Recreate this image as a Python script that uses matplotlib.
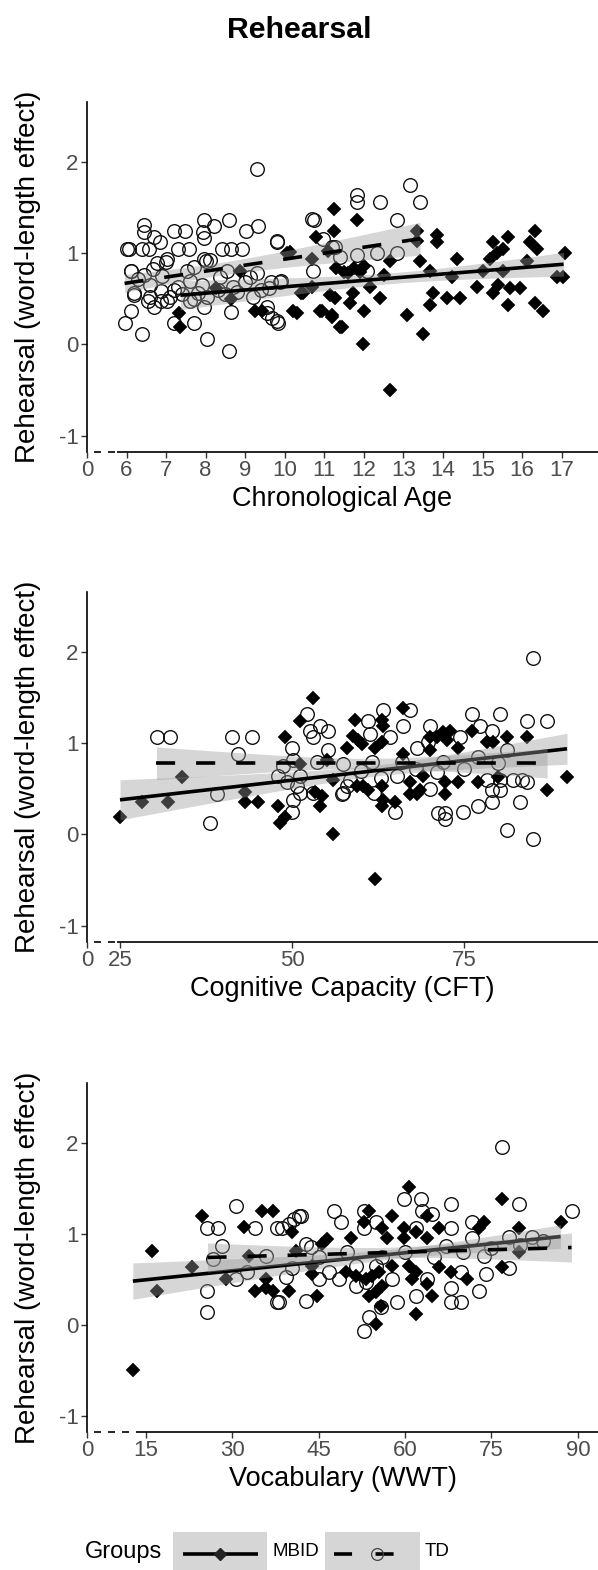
import numpy as np
import matplotlib
matplotlib.use('Agg')
import matplotlib.pyplot as plt
from matplotlib.patches import Rectangle

plt.rcParams['font.family'] = ['Liberation Sans', 'DejaVu Sans']

# ---------------- data ----------------
title = "Rehearsal"
ylabel = "Rehearsal (word-length effect)"
xlabels = ["Chronological Age", "Cognitive Capacity (CFT)", "Vocabulary (WWT)"]
yticks = [-1, 0, 1, 2]

# Panel 1: chronological age
p1_td = [(9.31,1.92),(6.45,1.31),(6.45,1.23),(7.97,1.37),(8.58,1.37),(8.2,1.30),(9.33,1.30),(7.19,1.24),
         (7.94,1.23),(9.03,1.24),(7.47,1.24),(6.7,1.18),(6.85,1.12),(6.0,1.05),(6.05,1.05),(6.4,1.05),
         (6.56,1.05),(7.29,1.05),(7.57,1.05),(7.95,1.17),(8.42,1.05),(8.63,1.05),(8.93,1.05),(9.81,1.12),
         (7.03,0.94),(7.95,0.94),(8.1,0.93),(6.12,0.81),(6.78,0.89),(5.95,0.24),(6.1,0.37),(6.4,0.12),
         (8.04,0.06),(8.58,-0.07),(7.7,0.24),(7.2,0.24),(8.65,0.36),(9.55,0.35),(9.68,0.29),(9.84,0.24),
         (6.18,0.54),(6.53,0.48),(6.86,0.48),(7.03,0.48),(6.7,0.41),
         (6.1,0.81),(6.43,0.76),(6.68,0.83),(7.0,0.90),(6.86,0.59),(6.18,0.56),(7.29,0.63),(7.6,0.70),
         (7.7,0.85),(8.0,0.92),(7.8,0.56),(8.04,0.52),(8.37,0.74),(8.55,0.81),(8.7,0.63),(9.13,0.74),
         (9.31,0.78),(9.64,0.68),(9.89,0.68),(9.81,1.14),(10.7,1.38),(10.72,0.81),(7.54,0.81),(7.11,0.52),
         (7.6,0.48),(7.95,0.41),(6.6,0.52),(9.56,0.41),(9.8,0.26),
         (6.3,0.72),(6.6,0.65),(7.2,0.60),(7.4,0.55),(7.9,0.65),(8.3,0.60),(8.8,0.58),(9.0,0.68),
         (9.4,0.60),(9.6,0.62),(6.9,0.75),(7.7,0.50),(8.5,0.55),(9.2,0.52),
         (13.17,1.75),(11.83,1.64),(11.83,1.56),(12.41,1.56),(13.42,1.56),(12.84,1.37),(11.28,1.07),
         (11.83,0.98),(12.34,1.00),(12.84,1.00),(12.08,0.81),(10.73,1.37),(10.97,1.16),(11.2,1.07),
         (9.9,0.70),(11.4,0.96)]
p1_mb = [(7.36,0.19),(7.32,0.35),(9.26,0.37),(9.43,0.37),(10.2,0.37),(10.06,1.0),(8.25,0.62),(8.63,0.5),
         (8.88,0.81),(11.25,1.49),(11.25,1.25),(10.8,1.18),(10.14,1.01),(10.7,0.94),(11.1,1.03),(11.3,0.84),
         (10.3,0.34),(10.95,0.37),(11.2,0.32),(11.4,0.19),(10.45,0.56),(10.7,0.63),(11.15,0.54),(11.83,1.36),
         (13.85,1.2),(13.85,1.12),(13.35,1.25),(13.35,1.14),(13.42,0.92),(12.67,0.92),(14.36,0.94),(13.68,0.81),
         (15.27,1.12),(15.65,1.18),(15.52,1.05),(15.2,0.94),(15.37,1.0),(16.33,1.25),(16.2,1.12),(16.38,1.05),
         (17.08,1.0),(16.88,0.74),(17.04,0.74),(16.13,0.92),(15.52,0.81),(15.0,0.81),(14.24,0.74),(14.86,0.63),
         (15.4,0.65),(15.27,0.56),(15.7,0.62),(15.95,0.62),(15.65,0.43),(16.33,0.45),(16.53,0.37),(14.43,0.51),
         (14.1,0.51),(13.75,0.56),(13.68,0.43),(13.1,0.32),(13.5,0.12),(11.98,0.01),(12.67,-0.5),(11.45,0.19),
         (12.0,0.37),(12.42,0.51),(11.73,0.56),(11.66,0.45),(11.28,0.51),(12.16,0.63),(11.5,0.80),(11.6,0.78),
         (11.75,0.84),(11.9,0.80),(12.0,0.86),(12.5,0.76),(10.4,0.56),(10.9,0.37),(11.2,0.30)]
p1_mb_fit = dict(x=[7.36, 17.05], y=[0.54, 0.88], hx=[7.36, 12.5, 17.05], hw=[0.16, 0.06, 0.13])
p1_td_fit = dict(x=[5.95, 13.42], y=[0.67, 1.16], hx=[5.95, 8.2, 13.42], hw=[0.10, 0.07, 0.18])

# Panel 2: cognitive capacity
p2_td = [(30.4,1.07),(32.3,1.07),(41.3,1.07),(44.2,1.07),(42.2,0.88),(39.1,0.44),(38.1,0.13),(52.2,1.32),
         (52.6,1.13),(54.1,1.19),(55.2,1.13),(53.1,1.07),(50.0,0.95),(55.2,0.93),(50.1,0.82),(48.7,0.75),
         (48.0,0.64),(49.3,0.57),(51.2,0.64),(50.7,0.53),(51.2,0.46),(50.1,0.38),(50.0,0.25),(53.0,0.46),
         (57.4,0.77),(57.3,0.44),(53.6,0.79),
         (85.0,1.94),(63.2,1.37),(67.2,1.37),(76.2,1.32),(80.2,1.32),(84.2,1.24),(87.1,1.24),(61.1,1.24),
         (66.1,1.19),(70.1,1.19),(77.3,1.19),(79.1,1.13),(64.2,1.07),(74.4,1.07),(68.2,0.95),(81.2,0.93),
         (65.3,0.64),(71.1,0.68),(78.4,0.60),(80.2,0.60),(82.1,0.60),(83.4,0.60),(84.2,0.57),(79.1,0.49),
         (80.2,0.49),(71.2,0.24),(72.2,0.24),(72.2,0.17),(74.9,0.25),(77.0,0.31),(79.1,0.36),(83.1,0.36),
         (65.0,0.25),(81.2,0.05),(85.0,-0.05),(57.4,0.46),(58.0,0.53),(58.4,0.60),(61.6,0.80),(61.3,1.10),
         (69.8,1.01),(60.0,0.70),(63.0,0.62),(66.0,0.80),(68.0,0.72),(72.0,0.80),(75.0,0.72),(77.0,0.85),
         (80.0,0.78),(70.0,0.50),(62.0,0.45)]
p2_mb = [(53.0,1.50),(51.2,1.24),(49.0,1.07),(34.0,0.63),(28.2,0.36),(32.0,0.36),(25.0,0.19),(43.2,0.47),
         (43.2,0.36),(45.1,0.36),(48.0,0.31),(48.3,0.13),(49.0,0.19),(56.0,0.0),(51.2,0.77),(55.1,0.82),
         (53.3,0.47),(54.4,0.42),(54.1,0.31),(58.0,0.95),(56.0,0.60),
         (66.1,1.39),(59.2,1.26),(63.1,1.26),(63.2,1.19),(58.9,1.08),(59.6,1.04),(60.2,0.99),(62.1,0.95),
         (63.1,1.01),(66.1,0.88),(70.1,1.07),(71.1,1.07),(72.0,1.12),(73.0,1.13),(72.5,1.04),(70.1,0.93),
         (74.1,0.95),(76.2,1.13),(78.3,1.01),(79.2,1.01),(81.2,1.07),(84.2,1.07),(90.0,0.63),(87.1,0.49),
         (79.9,0.63),(77.0,0.57),(74.1,0.57),(72.2,0.57),(72.2,0.44),(69.0,0.64),(68.6,0.49),(67.2,0.57),
         (67.2,0.44),(68.2,0.44),(65.0,0.36),(63.2,0.38),(63.1,0.31),(59.4,0.53),(61.0,0.49),(60.3,0.53),
         (63.1,0.53),(62.1,-0.49)]
p2_mb_fit = dict(x=[25.0, 90.0], y=[0.38, 0.94], hx=[25.0, 62.0, 90.0], hw=[0.22, 0.06, 0.17])
p2_td_fit = dict(x=[30.3, 87.1], y=[0.78, 0.78], hx=[30.3, 65.0, 87.1], hw=[0.18, 0.06, 0.16])

# Panel 3: vocabulary
p3_td = [(30.7,1.31),(25.7,1.07),(27.5,1.07),(33.9,1.07),(37.7,1.07),(38.7,1.07),(39.9,1.11),(40.8,1.16),
         (25.7,0.37),(25.7,0.14),(28.3,0.87),(30.7,0.50),(32.6,0.58),(35.9,0.76),(37.8,0.25),(39.4,0.53),
         (26.6,0.72),(42.0,1.2),(42.8,0.26),(42.8,0.89),(43.7,0.86),(45.1,0.5),(46.8,0.58),(48.6,0.5),
         (47.7,1.25),(48.9,1.13),(40.4,0.62),
         (76.8,1.96),(59.8,1.38),(62.7,1.38),(67.9,1.33),(79.7,1.33),(88.9,1.25),(52.9,1.25),(52.9,1.07),
         (55.0,1.13),(62.9,1.25),(64.7,1.22),(67.9,1.07),(71.6,1.13),(78.0,0.97),(82.0,0.97),(67.1,0.87),
         (71.6,0.95),(61.9,1.07),(73.7,0.76),(74.0,0.56),(72.8,0.37),(78.0,0.62),(67.9,0.40),(67.9,0.25),
         (69.8,0.25),(61.9,0.32),(63.8,0.5),(58.6,0.25),(57.7,0.5),(53.8,0.09),(52.9,-0.07),(55.8,0.2),
         (51.5,0.43),(53.2,0.47),(38.2,0.25),(69.8,0.58),(51.5,0.65),(41.6,1.2),
         (45.0,0.75),(50.0,0.80),(56.0,0.75),(60.0,0.80),(65.0,0.75),(70.0,0.80),(75.0,0.85),(80.0,0.88),
         (84.0,0.92),(55.0,0.65)]
p3_mb = [(12.75,-0.5),(16.0,0.81),(16.9,0.37),(23.0,0.64),(24.7,1.2),(29.0,0.5),(32.1,1.08),(35.1,1.25),
         (37.0,1.25),(33.9,0.37),(35.9,0.40),(37.0,0.37),(35.9,0.50),(39.9,0.37),(40.4,1.02),(33.0,0.76),
         (41.1,0.81),(46.5,0.94),(45.6,0.89),(44.8,0.32),(43.9,0.56),
         (60.7,1.52),(76.8,1.38),(87.0,1.13),(79.7,1.07),(73.7,1.13),(72.8,1.07),(53.8,1.25),(52.9,1.13),
         (57.7,1.2),(56.0,1.07),(56.9,0.95),(59.8,1.07),(59.8,0.95),(61.9,1.02),(63.8,1.2),(65.9,1.07),
         (63.8,0.95),(50.6,0.95),(43.9,0.65),(49.8,0.58),(51.5,0.54),(53.2,0.5),(54.3,0.54),(55.5,0.58),
         (56.0,0.43),(54.9,0.36),(53.8,0.32),(55.8,0.21),(54.9,0.01),(57.7,0.65),(60.7,0.65),(61.9,0.58),
         (61.2,0.5),(63.8,0.45),(64.7,0.32),(61.9,0.12),(65.9,0.64),(67.9,0.58),(70.7,0.5),(76.8,0.64),
         (79.7,0.8)]
p3_mb_fit = dict(x=[12.75, 87.0], y=[0.48, 0.97], hx=[12.75, 55.0, 87.0], hw=[0.20, 0.055, 0.13])
p3_td_fit = dict(x=[25.7, 88.9], y=[0.74, 0.85], hx=[25.7, 60.0, 88.9], hw=[0.16, 0.06, 0.16])

# axis layout per panel: (xmin, xmax, solid-axis start), ticks
p1_xticks = [6, 7, 8, 9, 10, 11, 12, 13, 14, 15, 16, 17]
p2_xticks = [25, 50, 75]
p3_xticks = [15, 30, 45, 60, 75, 90]
p_xrange = [(5.0, 17.92, 5.77), (20.2, 94.5, 24.6), (4.79, 93.5, 13.44)]
ylim = (-1.18, 2.66)

# ---------------- figure ----------------
W, H = 598, 1570
fig = plt.figure(figsize=(W / 100, H / 100), dpi=100)

rects_px = [(102, 452), (592, 942), (1083, 1432)]
left_px = 87

band_col = '#999999'
band_alpha = 0.4
line_w = 2.6


def draw_fit(ax, fit, ls, z):
    xs = np.linspace(fit['x'][0], fit['x'][1], 200)
    ys = np.interp(xs, fit['x'], fit['y'])
    c = np.polyfit(fit['hx'], np.square(fit['hw']), 2)
    h = np.sqrt(np.clip(np.polyval(c, xs), 1e-4, None))
    ax.fill_between(xs, ys - h, ys + h, color=band_col, alpha=band_alpha, lw=0, zorder=z)
    if ls == 'dashed':
        ax.plot(xs, ys, color='k', lw=line_w, linestyle=(0, (5.3, 5.8)), zorder=z + 0.5,
                solid_capstyle='butt', dash_capstyle='butt')
    else:
        ax.plot(xs, ys, color='k', lw=line_w, zorder=z + 0.5, solid_capstyle='butt')


panels = [
    (p1_td, p1_mb, p1_td_fit, p1_mb_fit, p1_xticks),
    (p2_td, p2_mb, p2_td_fit, p2_mb_fit, p2_xticks),
    (p3_td, p3_mb, p3_td_fit, p3_mb_fit, p3_xticks),
]

for i, (td, mb, td_fit, mb_fit, xt) in enumerate(panels):
    top, bot = rects_px[i]
    ax = fig.add_axes([left_px / W, 1 - bot / H, (W - left_px) / W, (bot - top) / H])
    ax.set_facecolor('none')
    xmin, xmax, xs0 = p_xrange[i]
    ax.set_xlim(xmin, xmax)
    ax.set_ylim(*ylim)

    td = np.array(td)
    mb = np.array(mb)
    ax.plot(td[:, 0], td[:, 1], 'o', ms=9.8, mfc='none', mec='#111111', mew=1.0, zorder=2)
    ax.plot(mb[:, 0], mb[:, 1], 'D', ms=7.0, mfc='black', mec='black', mew=0.3, zorder=2.2)

    draw_fit(ax, mb_fit, 'solid', 3)
    draw_fit(ax, td_fit, 'dashed', 5)

    # axes styling
    for s in ['top', 'right', 'bottom']:
        ax.spines[s].set_visible(False)
    ax.spines['left'].set_linewidth(1.2)
    ax.spines['left'].set_color('black')
    ax.plot([xs0, xmax], [ylim[0], ylim[0]], color='black', lw=1.2, clip_on=False, zorder=10,
            solid_capstyle='butt')
    ax.plot([xmin, xs0], [ylim[0], ylim[0]], color='black', lw=1.2, clip_on=False, zorder=10,
            linestyle=(4.2, (4.2, 4.2)))

    ax.set_xticks([xmin] + list(xt))
    ax.set_xticklabels(['0'] + [str(v) for v in xt])
    ax.set_yticks(yticks)
    ax.set_yticklabels([str(v) for v in yticks])
    ax.tick_params(axis='both', length=4, width=1.0, color='#333333', labelcolor='#4D4D4D',
                   labelsize=16, pad=2)
    ax.set_xlabel(xlabels[i], fontsize=19.5, color='black', labelpad=3)

    fig.text(28 / W, 1 - ((top + bot) / 2) / H, ylabel, rotation=90, ha='center', va='center',
             fontsize=20, color='black')

fig.text(0.5, 1 - 30 / H, title, ha='center', va='center', fontsize=21.8, fontweight='bold')

# ---------------- legend ----------------
lax = fig.add_axes([0, 0, 1, 1])
lax.set_xlim(0, W)
lax.set_ylim(H, 0)
lax.axis('off')
ly = 1552
lax.text(85, ly, "Groups", fontsize=17, ha='left', va='center')
lax.add_patch(Rectangle((173, 1532), 94, 50, fc=band_col, alpha=band_alpha, lw=0, clip_on=False))
lax.plot([183, 258], [ly + 2, ly + 2], color='black', lw=line_w, solid_capstyle='butt')
lax.plot([220], [ly + 2], 'D', ms=6.0, mfc='#222222', mec='#222222')
lax.text(273, ly, "MBID", fontsize=13.5, ha='left', va='center')
lax.add_patch(Rectangle((325, 1532), 95, 50, fc=band_col, alpha=band_alpha, lw=0, clip_on=False))
lax.plot([334, 411], [ly + 2, ly + 2], color='black', lw=line_w, linestyle=(0, (5, 6.5)),
         dash_capstyle='butt')
lax.plot([377], [ly + 2], 'o', ms=8.5, mfc='none', mec='#444444', mew=0.9)
lax.text(425, ly, "TD", fontsize=13.5, ha='left', va='center')

fig.savefig('out.png', dpi=100)
